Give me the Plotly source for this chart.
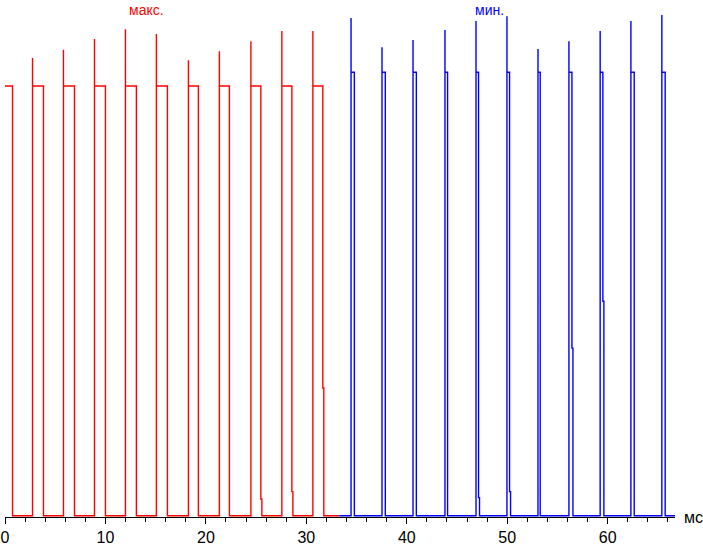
import plotly.graph_objects as go

# ---- data (time in ms, level in relative units; low level = 0) ----
red_rise = [2.74, 5.82, 8.91, 11.99, 15.07, 18.26, 21.34, 24.48, 27.56, 30.65]
red_fall = [0.75, 3.83, 6.92, 10.00, 13.08, 16.17, 19.25, 22.34, 25.47, 28.56, 31.64]
red_spike = [106.5, 108.4, 110.9, 113.2, 112.1, 106.0, 108.1, 110.4, 112.8, 112.8]
red_fall_knee = [None, None, None, None, None, None, None, None, 3.9, 5.6, 29.7]
red_high = 100.0
red_start = 0.0
red_end = 33.28

blue_rise = [34.45, 37.53, 40.62, 43.80, 46.89, 49.97, 53.06, 56.14, 59.25, 62.31, 65.39]
blue_fall = [34.78, 37.86, 40.95, 44.06, 47.14, 50.23, 53.28, 56.44, 59.52, 62.64, 65.72]
blue_spike = [115.8, 109.0, 110.7, 113.0, 115.1, 116.2, 108.6, 110.4, 112.8, 115.1, 116.5]
blue_fall_knee = [None, None, None, None, 4.2, 5.6, None, 39.0, 49.9, None, None]
blue_high = 103.2
blue_start = 33.28
blue_end = 66.7

x_range = [0, 66.7]
y_range = [-0.3, 120]


def add_fall(xs, ys, f, high, knee):
    if knee is None:
        xs += [f, f]
        ys += [high, 0]
    else:
        xs += [f, f, f + 0.1, f + 0.1]
        ys += [high, knee, knee, 0]


def wave(x0, x1, rises, falls, spikes, high, knees, start_high):
    xs = [x0]
    ys = [high if start_high else 0]
    if start_high:
        add_fall(xs, ys, falls[0], high, knees[0])
        falls = falls[1:]
        knees = knees[1:]
    for r, f, s, k in zip(rises, falls, spikes, knees):
        xs += [r, r, r]
        ys += [0, s, high]
        add_fall(xs, ys, f, high, k)
    xs.append(x1)
    ys.append(0)
    return xs, ys


rx, ry = wave(red_start, red_end, red_rise, red_fall, red_spike, red_high, red_fall_knee, True)
bx, by = wave(blue_start, blue_end, blue_rise, blue_fall, blue_spike, blue_high, blue_fall_knee, False)

fig = go.Figure()
fig.add_trace(go.Scatter(x=rx, y=ry, mode="lines", line=dict(color="#ff0000", width=1.4),
                         hoverinfo="skip", showlegend=False, cliponaxis=False))
fig.add_trace(go.Scatter(x=bx, y=by, mode="lines", line=dict(color="#0000ff", width=1.4),
                         hoverinfo="skip", showlegend=False, cliponaxis=False))

fig.update_layout(
    width=703, height=545,
    margin=dict(l=5, r=28, t=0, b=28),
    paper_bgcolor="white", plot_bgcolor="white",
    font=dict(family="Liberation Sans, Arial, sans-serif", size=16, color="black"),
    xaxis=dict(range=x_range, showline=True, linecolor="black", linewidth=1,
               ticks="outside", ticklen=6, tickcolor="black", dtick=10, tick0=0,
               minor=dict(dtick=2, ticklen=4, ticks="outside", tickcolor="black"),
               showgrid=False, zeroline=False, tickfont=dict(size=16), automargin=False),
    yaxis=dict(range=y_range, visible=False, showgrid=False, zeroline=False),
    annotations=[
        dict(text="макс.", x=14.1, y=1, xref="x", yref="paper", xanchor="center", yanchor="top",
             showarrow=False, font=dict(color="#ff0000", size=14)),
        dict(text="мин.", x=48.2, y=1, xref="x", yref="paper", xanchor="center", yanchor="top",
             showarrow=False, font=dict(color="#0000ff", size=14)),
        dict(text="мс", x=1, y=0, xref="paper", yref="paper", xanchor="left", yanchor="middle",
             xshift=7, showarrow=False, font=dict(color="black", size=16)),
    ],
)

fig.write_html("out.html", config={"displayModeBar": False},
               post_script="document.body.style.margin='0px';document.body.style.overflow='hidden';")
